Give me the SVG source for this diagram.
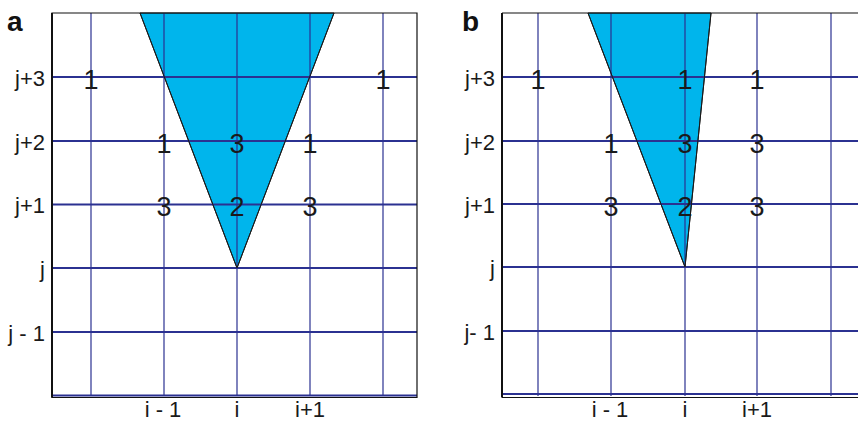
<svg xmlns="http://www.w3.org/2000/svg" width="858" height="421" viewBox="0 0 858 421">
<style>
.grid{stroke:#2b3191;fill:none}
.h{stroke-width:1.8}
.v{stroke-width:1.2}
.tri{fill:#00b5ec;stroke:#1a1a1a;stroke-width:1}
.bd{stroke:#111;fill:none;stroke-width:1.2}
.num{font-family:"Liberation Sans",Arial,sans-serif;font-size:27px;fill:#1a1a1a;text-anchor:middle}
.ax{font-family:"Liberation Sans",Arial,sans-serif;font-size:22px;fill:#1a1a1a}
.axl{text-anchor:end}
.axb{text-anchor:middle}
.pl{font-family:"Liberation Sans",Arial,sans-serif;font-size:28px;font-weight:bold;fill:#111}
</style>
<rect width="858" height="421" fill="#fff"/>
<g id="panel-a">
  <polygon class="tri" points="140,13 334,13 237,268"/>
  <g class="grid">
    <line class="v" x1="91" y1="13" x2="91" y2="396"/>
    <line class="v" x1="164" y1="13" x2="164" y2="396"/>
    <line class="v" x1="237" y1="13" x2="237" y2="396"/>
    <line class="v" x1="310" y1="13" x2="310" y2="396"/>
    <line class="v" x1="383" y1="13" x2="383" y2="396"/>
    <line class="h" x1="52" y1="77" x2="417" y2="77"/>
    <line class="h" x1="52" y1="141" x2="417" y2="141"/>
    <line class="h" x1="52" y1="204.5" x2="417" y2="204.5"/>
    <line class="h" x1="52" y1="268" x2="417" y2="268"/>
    <line class="h" x1="52" y1="332" x2="417" y2="332"/>
    <line x1="52" y1="395.5" x2="417" y2="395.5" stroke-width="2"/>
  </g>
  <line x1="140" y1="13" x2="237" y2="268" stroke="#1a1a1a" stroke-width="1"/>
  <line x1="334" y1="13" x2="237" y2="268" stroke="#1a1a1a" stroke-width="1"/>
  <path class="bd" d="M52,13 H417 V397.5 H52 Z"/>
  <line x1="52" y1="13" x2="52" y2="397.5" stroke="#111" stroke-width="2"/>
  <text class="pl" x="7" y="31">a</text>
  <text class="ax axl" x="45" y="86">j+3</text>
  <text class="ax axl" x="45" y="150">j+2</text>
  <text class="ax axl" x="45" y="213">j+1</text>
  <text class="ax axl" x="45" y="277">j</text>
  <text class="ax axl" x="45" y="341">j - 1</text>
  <text class="ax axb" x="163" y="417">i - 1</text>
  <text class="ax axb" x="237" y="417">i</text>
  <text class="ax axb" x="310" y="417">i+1</text>
  <text class="num" x="91" y="89">1</text>
  <text class="num" x="383" y="89">1</text>
  <text class="num" x="164" y="153">1</text>
  <text class="num" x="237" y="153">3</text>
  <text class="num" x="310" y="153">1</text>
  <text class="num" x="164" y="216">3</text>
  <text class="num" x="237" y="216">2</text>
  <text class="num" x="310" y="216">3</text>
</g>
<g id="panel-b">
  <polygon class="tri" points="588,13 711,13 685,267"/>
  <g class="grid">
    <line class="v" x1="538" y1="13" x2="538" y2="396"/>
    <line class="v" x1="611" y1="13" x2="611" y2="396"/>
    <line class="v" x1="685" y1="13" x2="685" y2="396"/>
    <line class="v" x1="757" y1="13" x2="757" y2="396"/>
    <line class="v" x1="831" y1="13" x2="831" y2="396"/>
    <line class="h" x1="502" y1="77" x2="858" y2="77"/>
    <line class="h" x1="502" y1="141" x2="858" y2="141"/>
    <line class="h" x1="502" y1="204" x2="858" y2="204"/>
    <line class="h" x1="502" y1="267" x2="858" y2="267"/>
    <line class="h" x1="502" y1="331" x2="858" y2="331"/>
    <line class="h" x1="502" y1="394" x2="858" y2="394"/>
  </g>
  <line x1="588" y1="13" x2="685" y2="267" stroke="#1a1a1a" stroke-width="1"/>
  <line x1="711" y1="13" x2="685" y2="267" stroke="#1a1a1a" stroke-width="1"/>
  <line x1="502" y1="13" x2="858" y2="13" stroke="#111" stroke-width="1.2"/>
  <line x1="502" y1="397.5" x2="858" y2="397.5" stroke="#111" stroke-width="1.2"/>
  <line x1="502" y1="13" x2="502" y2="397.5" stroke="#111" stroke-width="2"/>
  <text class="pl" x="462" y="31">b</text>
  <text class="ax axl" x="495" y="86">j+3</text>
  <text class="ax axl" x="495" y="150">j+2</text>
  <text class="ax axl" x="495" y="213">j+1</text>
  <text class="ax axl" x="495" y="276">j</text>
  <text class="ax axl" x="495" y="340">j- 1</text>
  <text class="ax axb" x="610" y="417">i - 1</text>
  <text class="ax axb" x="685" y="417">i</text>
  <text class="ax axb" x="757" y="417">i+1</text>
  <text class="num" x="538" y="89">1</text>
  <text class="num" x="685" y="89">1</text>
  <text class="num" x="757" y="89">1</text>
  <text class="num" x="611" y="153">1</text>
  <text class="num" x="685" y="153">3</text>
  <text class="num" x="757" y="153">3</text>
  <text class="num" x="611" y="216">3</text>
  <text class="num" x="685" y="216">2</text>
  <text class="num" x="757" y="216">3</text>
</g>
</svg>
